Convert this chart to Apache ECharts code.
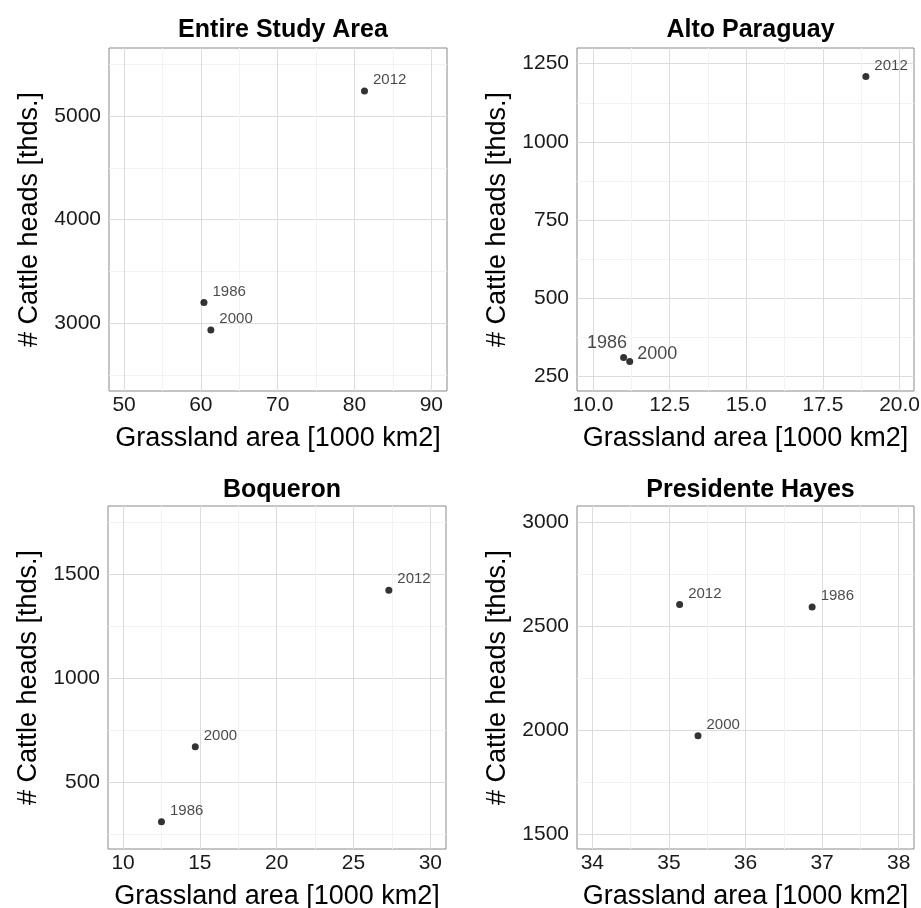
<!DOCTYPE html>
<html>
<head>
<meta charset="utf-8">
<script src="https://cdn.jsdelivr.net/npm/echarts@6/dist/echarts.min.js"></script>
<style>
  html, body { margin: 0; padding: 0; background: #fff; }
  #chart { width: 921px; height: 908px; }
</style>
</head>
<body>
<div id="chart"></div>
<script>
const years = ['1986', '2000', '2012']
const panelTitles = ['Entire Study Area', 'Alto Paraguay', 'Boqueron', 'Presidente Hayes']

// grassland area [1000 km2], one value per year
const areaEntire = [60.4, 61.3, 81.3]
const areaAlto = [11.0, 11.2, 18.9]
const areaBoqueron = [12.5, 14.7, 27.3]
const areaHayes = [36.87, 35.38, 35.14]

// cattle heads [thds.], one value per year
const cattleEntire = [3202, 2935, 5241]
const cattleAlto = [311, 298, 1209]
const cattleBoqueron = [311, 671, 1422]
const cattleHayes = [2592, 1973, 2604]

// tick labels
const xTicksEntire = [50, 60, 70, 80, 90]
const yTicksEntire = [3000, 4000, 5000]
const xTicksAlto = [10, 12.5, 15, 17.5, 20]
const yTicksAlto = [250, 500, 750, 1000, 1250]
const xTicksBoqueron = [10, 15, 20, 25, 30]
const yTicksBoqueron = [500, 1000, 1500]
const xTicksHayes = [34, 35, 36, 37, 38]
const yTicksHayes = [1500, 2000, 2500, 3000]

const FONT = 'Liberation Sans, Arial, sans-serif'

// panel layout + axis extents
const panels = [
  { area: areaEntire, cattle: cattleEntire, xTicks: xTicksEntire, yTicks: yTicksEntire,
    grid: { left: 109, top: 48, width: 338, height: 343 },
    xMin: 48.04, xMax: 92.04, yMin: 2348, yMax: 5655, xDec: 0, titleTop: 13 },
  { area: areaAlto, cattle: cattleAlto, xTicks: xTicksAlto, yTicks: yTicksAlto,
    grid: { left: 577, top: 48, width: 337, height: 343 },
    xMin: 9.48, xMax: 20.47, yMin: 204, yMax: 1300, xDec: 1, titleTop: 13 },
  { area: areaBoqueron, cattle: cattleBoqueron, xTicks: xTicksBoqueron, yTicks: yTicksBoqueron,
    grid: { left: 108, top: 506, width: 338, height: 343 },
    xMin: 9.02, xMax: 31.02, yMin: 180, yMax: 1826, xDec: 0, titleTop: 473 },
  { area: areaHayes, cattle: cattleHayes, xTicks: xTicksHayes, yTicks: yTicksHayes,
    grid: { left: 577, top: 506, width: 337, height: 343 },
    xMin: 33.8, xMax: 38.2, yMin: 1429, yMax: 3077, xDec: 0, titleTop: 473 },
]

// label placement tweaks (Alto Paraguay points overlap)
function labelFor(p, i) {
  if (p === 1 && i === 0) return { position: 'left', offset: [12, -14], fontSize: 18 }
  if (p === 1 && i === 1) return { position: 'right', offset: [-1, -8], fontSize: 18 }
  return { position: 'right', offset: [0, -11], fontSize: 15 }
}

// minor gridlines halfway between the majors
function minors(ticks, min, max) {
  const step = ticks[1] - ticks[0]
  const out = []
  for (let v = ticks[0] - step / 2; v <= max; v += step) {
    if (v >= min) out.push(v)
  }
  return out
}

let grid = []
let xAxis = []
let yAxis = []
let series = []
let title = []

panels.forEach((p, k) => {
  grid.push(Object.assign({
    show: true, borderColor: '#8a8a8a', borderWidth: 1, backgroundColor: '#fff',
    containLabel: false, outerBoundsMode: 'none',
  }, p.grid))
  title.push({
    text: panelTitles[k],
    left: p.grid.left + p.grid.width / 2,
    top: p.titleTop,
    textAlign: 'center',
    textStyle: { fontFamily: FONT, fontSize: 25, fontWeight: 'bold', color: '#000' },
  })
  // minor grid axes (hidden, only split lines)
  xAxis.push({
    type: 'value', gridIndex: k, min: p.xMin, max: p.xMax, position: 'top',
    axisLine: { show: false }, axisLabel: { show: false },
    axisTick: { show: false, customValues: minors(p.xTicks, p.xMin, p.xMax) },
    splitLine: { show: true, lineStyle: { color: '#f2f2f2', width: 1 } },
  })
  yAxis.push({
    type: 'value', gridIndex: k, min: p.yMin, max: p.yMax, position: 'right',
    axisLine: { show: false }, axisLabel: { show: false },
    axisTick: { show: false, customValues: minors(p.yTicks, p.yMin, p.yMax) },
    splitLine: { show: true, lineStyle: { color: '#f2f2f2', width: 1 } },
  })
  // major axes with labels
  xAxis.push({
    type: 'value', gridIndex: k, min: p.xMin, max: p.xMax, position: 'bottom',
    name: 'Grassland area [1000 km2]',
    nameLocation: 'middle', nameGap: 34,
    nameTextStyle: { fontFamily: FONT, fontSize: 27, color: '#000' },
    axisLine: { show: false },
    axisTick: { show: false, customValues: p.xTicks },
    axisLabel: {
      customValues: p.xTicks, margin: 4,
      fontFamily: FONT, fontSize: 21, color: '#1a1a1a',
      formatter: (v) => Number(v).toFixed(p.xDec),
    },
    splitLine: { show: true, lineStyle: { color: '#dcdcdc', width: 1 } },
  })
  yAxis.push({
    type: 'value', gridIndex: k, min: p.yMin, max: p.yMax, position: 'left',
    name: '# Cattle heads [thds.]',
    nameLocation: 'middle', nameGap: 66,
    nameTextStyle: { fontFamily: FONT, fontSize: 27, color: '#000' },
    axisLine: { show: false },
    axisTick: { show: false, customValues: p.yTicks },
    axisLabel: {
      customValues: p.yTicks, margin: 8,
      fontFamily: FONT, fontSize: 21, color: '#1a1a1a',
      formatter: (v) => String(v),
    },
    splitLine: { show: true, lineStyle: { color: '#dcdcdc', width: 1 } },
  })
  series.push({
    type: 'scatter',
    xAxisIndex: 2 * k + 1,
    yAxisIndex: 2 * k + 1,
    symbolSize: 7,
    itemStyle: { color: '#000' },
    data: p.area.map((x, i) => ({
      value: [x, p.cattle[i]],
      label: Object.assign({
        show: true,
        formatter: years[i],
        fontFamily: FONT,
        color: '#1a1a1a',
        distance: 5,
      }, labelFor(k, i)),
    })),
  })
})

let myChart = echarts.init(document.getElementById('chart'), null, { renderer: 'canvas' })
myChart.setOption({
  animation: false,
  backgroundColor: '#fff',
  title: title,
  grid: grid,
  xAxis: xAxis,
  yAxis: yAxis,
  series: series,
})
</script>
</body>
</html>
